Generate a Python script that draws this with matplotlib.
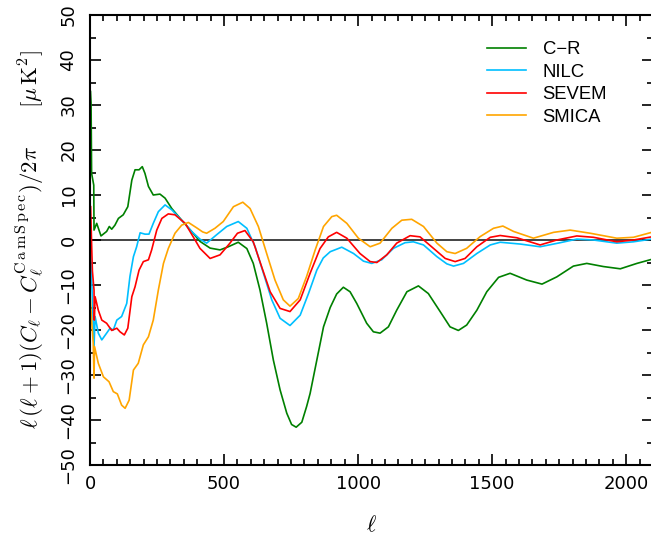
import matplotlib
matplotlib.use("Agg")
import matplotlib.pyplot as plt
from matplotlib.ticker import MultipleLocator

plt.rcParams['font.family'] = ['Liberation Sans', 'DejaVu Sans']
plt.rcParams['mathtext.fontset'] = 'cm'

# C-R
cr_l = [2, 4, 6, 14, 15, 25, 41, 62, 72, 81, 93, 106, 124, 141, 156, 168, 183, 195, 205, 218,
        236, 261, 280, 305, 342, 379, 410, 448, 485, 516, 553, 585, 609, 634, 659, 684, 709,
        734, 752, 769, 790, 808, 821, 846, 871, 896, 920, 945, 970, 995, 1032, 1057, 1082,
        1113, 1144, 1182, 1225, 1262, 1306, 1343, 1374, 1405, 1443, 1480, 1524, 1567, 1629,
        1686, 1741, 1803, 1853, 1915, 1978, 2040, 2095]
cr_v = [33, 30.4, 14.8, 12.2, 2.2, 3.7, 0.9, 1.9, 3.0, 2.4, 3.3, 4.8, 5.6, 7.4, 13.3, 15.6, 15.6,
        16.3, 14.8, 11.9, 10.0, 10.2, 9.3, 7.0, 4.4, 1.9, -0.3, -1.8, -2.2, -1.5, -0.5, -1.9,
        -5.2, -11.1, -18.5, -26.7, -33.3, -38.5, -41.0, -41.6, -40.5, -37.0, -34.1, -26.7,
        -19.3, -15.0, -12.0, -10.5, -11.5, -14.1, -18.5, -20.4, -20.7, -19.3, -15.6, -11.5,
        -10.2, -11.9, -15.9, -19.3, -20.1, -18.9, -15.6, -11.5, -8.3, -7.4, -8.9, -9.8, -8.2,
        -5.8, -5.2, -5.9, -6.4, -5.2, -4.3]

# NILC
nilc_l = [2, 6, 10, 15, 19, 31, 44, 62, 75, 87, 100, 118, 137, 149, 162, 174, 187, 205, 220, 236,
          255, 280, 305, 342, 379, 410, 435, 473, 510, 553, 585, 616, 647, 678, 709, 746, 784,
          815, 846, 870, 896, 939, 983, 1020, 1051, 1088, 1132, 1175, 1206, 1244, 1294, 1331,
          1356, 1393, 1443, 1493, 1530, 1605, 1679, 1754, 1816, 1878, 1965, 2027, 2095]
nilc_v = [-3, -8, -15, -23.7, -17, -20.7, -22.2, -20.7, -19.6, -20, -17.8, -17, -14.1, -8.1, -3.7,
          -1.5, 1.6, 1.3, 1.3, 3.7, 6.3, 7.8, 6.7, 4.4, 1.9, 0.2, -0.7, 1.2, 3.0, 4.1, 2.6, -1.5,
          -7.4, -13.3, -17.4, -19.0, -16.7, -11.9, -6.7, -4.0, -2.6, -1.6, -3.0, -4.7, -5.2,
          -4.4, -1.85, -0.6, -0.4, -1.1, -3.7, -5.3, -5.8, -5.2, -3.0, -1.1, -0.5, -0.9, -1.5,
          -0.6, 0.2, 0.0, -0.7, -0.4, 0.2]

# SEVEM
sevem_l = [2.5, 6, 9, 15, 16, 19, 31, 44, 62, 81, 100, 112, 128, 141, 156, 168, 183, 199, 218, 230,
           249, 268, 292, 317, 355, 392, 410, 448, 485, 522, 550, 578, 609, 640, 672, 709, 746,
           784, 821, 858, 889, 920, 958, 1007, 1045, 1070, 1107, 1144, 1194, 1231, 1281, 1325,
           1362, 1399, 1443, 1493, 1530, 1592, 1679, 1741, 1816, 1878, 1965, 2027, 2095]
sevem_v = [7.4, -0.9, -6.9, -11.1, -17.8, -12.6, -15.6, -17.8, -18.5, -20.1, -19.6, -20.4, -21.1,
           -19.6, -12.6, -10.4, -6.7, -4.8, -4.4, -2.2, 2.2, 4.8, 5.8, 5.6, 3.7, 0, -1.85, -4.1,
           -3.3, -0.7, 1.5, 2.1, -0.4, -5.9, -11.5, -15.2, -15.9, -13.3, -7.4, -1.9, 0.7, 1.7,
           0.4, -3.0, -4.8, -5.0, -3.3, -0.7, 0.96, 0.7, -1.85, -4.1, -4.8, -4.1, -1.5, 0.6,
           1.0, 0.5, -1.1, 0, 0.9, 0.6, -0.4, 0, 0.7]

# SMICA
smica_l = [1, 6, 12, 15, 17, 31, 50, 71, 87, 102, 118, 131, 146, 162, 180, 199, 218, 236, 255,
           274, 292, 317, 342, 367, 398, 420, 435, 466, 497, 535, 570, 597, 628, 659, 690, 721,
           746, 777, 808, 840, 871, 902, 920, 958, 1001, 1045, 1082, 1126, 1163, 1200, 1244,
           1294, 1331, 1362, 1405, 1455, 1505, 1540, 1580, 1654, 1729, 1791, 1866, 1965, 2027,
           2095]
smica_v = [-12.6, -17.8, -22.9, -30.7, -23.7, -27.4, -30.4, -31.5, -33.7, -34.2, -36.7, -37.4,
           -35.6, -28.9, -27.4, -23.3, -21.5, -17.8, -11.1, -5.2, -1.9, 1.5, 3.3, 3.9, 2.7, 1.8,
           1.5, 2.6, 4.1, 7.4, 8.4, 7.0, 3.0, -3.0, -8.9, -13.3, -14.7, -13.0, -8.1, -2.2, 3.0,
           5.2, 5.5, 3.7, 0.4, -1.5, -0.7, 2.6, 4.4, 4.6, 3.0, -0.7, -2.6, -3.0, -1.85, 0.74,
           2.6, 3.1, 1.9, 0.4, 1.7, 2.2, 1.5, 0.4, 0.6, 1.7]

fig = plt.figure(figsize=(6.51, 5.35), dpi=100)
ax = fig.add_axes([90 / 651, 70 / 535, 563 / 651, 450 / 535])

ax.axhline(0, color='#222222', lw=1.2, zorder=1)
ax.plot(cr_l, cr_v, color='#008000', lw=1.2, label='C\u2212R')
ax.plot(nilc_l, nilc_v, color='#00BFFF', lw=1.2, label='NILC')
ax.plot(sevem_l, sevem_v, color='#FF0000', lw=1.2, label='SEVEM')
ax.plot(smica_l, smica_v, color='#FFA500', lw=1.2, label='SMICA')

ax.set_xlim(0, 2100)
ax.set_ylim(-50, 50)
ax.xaxis.set_major_locator(MultipleLocator(500))
ax.xaxis.set_minor_locator(MultipleLocator(50))
ax.yaxis.set_major_locator(MultipleLocator(10))
ax.yaxis.set_minor_locator(MultipleLocator(5))
ax.tick_params(which='both', direction='in', top=True, right=True, width=1.2)
ax.tick_params(which='major', length=8)
ax.tick_params(which='minor', length=4)
ax.tick_params(axis='y', pad=9)
ax.tick_params(axis='x', pad=7)
for lab in ax.get_xticklabels() + ax.get_yticklabels():
    lab.set_family('DejaVu Sans')
    lab.set_fontsize(13)
plt.setp(ax.get_yticklabels(), rotation=90, va='center')
for s in ax.spines.values():
    s.set_linewidth(1.5)

ax.set_xlabel(r'$\ell$', fontsize=16, labelpad=16)
ax.set_ylabel(r'$\ell\,(\ell+1)(C_\ell - C_\ell^{\rm C\,a\,m\,S\,p\,e\,c})/2\pi\qquad[\mu\,{\rm K}^2]$',
              fontsize=16.5, labelpad=9)

ax.legend(loc='upper left', bbox_to_anchor=(478 / 651, 1 - 32 / 535), bbox_transform=fig.transFigure,
          frameon=False, fontsize=13.3, handlelength=2.1, labelspacing=0.3, borderpad=0,
          handletextpad=0.9)

fig.savefig('out.png', dpi=100)
